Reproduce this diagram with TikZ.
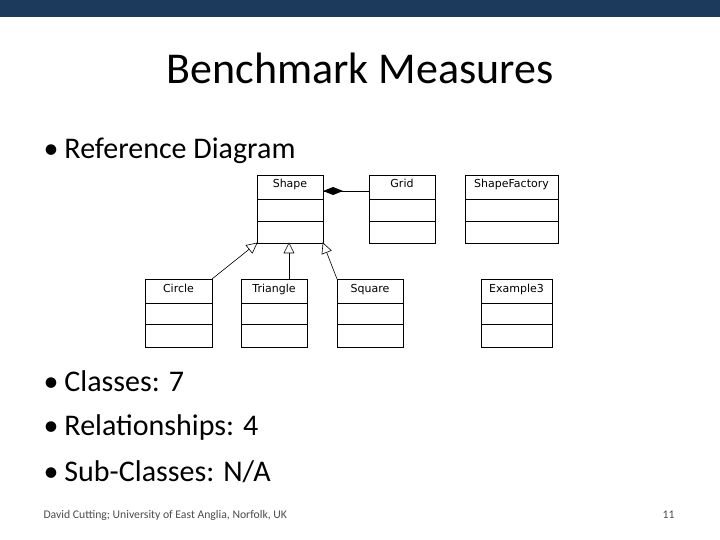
\documentclass[tikz,border=0pt]{standalone}
\usepackage{fontspec}
\usetikzlibrary{calc}
\setmainfont{Carlito}
\newfontfamily\umlfont{DejaVu Sans}
\definecolor{barblue}{HTML}{1B3A5C}
\begin{document}
\begin{tikzpicture}[x=1pt,y=-1pt,
  cls/.style={draw,line width=0.8pt},
  lbl/.style={font=\umlfont\fontsize{11}{13}\selectfont,anchor=base,text height=8pt,text depth=2pt},
  gen/.style={draw,line width=0.6pt},
  bul/.style={anchor=west,font=\fontsize{30}{34}\selectfont}]
\useasboundingbox (0,0) rectangle (720,540);
\fill[barblue] (0,0) rectangle (720,17);
\node (title) at (360,68) {\fontsize{44}{50}\selectfont Benchmark Measures};
\node[bul] (b1) at (40,151) {•\hspace{6pt}Reference Diagram};
\node[bul] (b2) at (40,381) {•\hspace{6pt}Classes: 7};
\node[bul] (b3) at (40,427) {•\hspace{6pt}Relationships: 4};
\node[bul] (b4) at (40,472) {•\hspace{6pt}Sub-Classes: N/A};
\node[anchor=west,font=\fontsize{11.7}{13}\selectfont,text=black!70] (foot) at (40,515) {David Cutting; University of East Anglia, Norfolk, UK};
\node[anchor=east,font=\fontsize{11.7}{13}\selectfont,text=black!70] (pg) at (678,515) {11};
\foreach \n/\t/\xa/\xb/\ya/\da/\db/\yb in {
  shape/Shape/257/323/175/199/221/243,
  grid/Grid/369/435/175/199/221/243,
  fac/ShapeFactory/465/558/175/199/221/243,
  circ/Circle/145/212/279/303/324/347,
  tri/Triangle/241/307/279/303/324/347,
  sq/Square/337/403/279/303/324/347,
  ex/Example3/481/552/279/303/324/347}{
  \draw[cls] (\xa,\ya) rectangle (\xb,\yb);
  \draw[cls] (\xa,\da) -- (\xb,\da) (\xa,\db) -- (\xb,\db);
  \node[lbl] (\n) at ({(\xa+\xb)/2},{\ya+13}) {\t};
  \coordinate (\n-nw) at (\xa,\ya);
  \coordinate (\n-ne) at (\xb,\ya);
  \coordinate (\n-sw) at (\xa,\yb);
  \coordinate (\n-se) at (\xb,\yb);
}
\coordinate (dA) at (323,191);
\coordinate (gA) at (369,191);
\draw[line width=0.8pt] (dA) -- (gA);
\fill (323,191) -- (333,187) -- (343,191) -- (333,195) -- cycle;
\coordinate (cT) at (212,279);
\coordinate (tT) at (289,279);
\coordinate (sT) at (337,279);
\coordinate (tB) at (289,243);
\foreach \s/\e in {cT/shape-sw, tT/tB, sT/shape-se}{
  \draw[gen] (\s) -- ($(\e)!10pt!(\s)$);
  \draw[gen,fill=white] (\e) -- ($($(\e)!10pt!(\s)$)!5pt!90:(\e)$) -- ($($(\e)!10pt!(\s)$)!5pt!-90:(\e)$) -- cycle;
}
\end{tikzpicture}
\end{document}
